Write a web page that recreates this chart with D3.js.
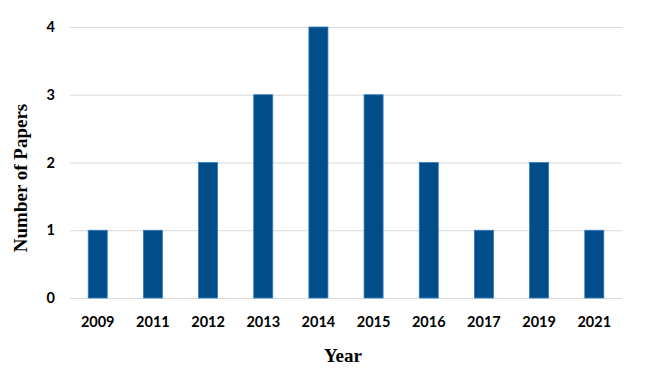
<!DOCTYPE html>
<html>
<head>
<meta charset="utf-8">
<script src="https://cdn.jsdelivr.net/npm/d3@7"></script>
<style>
	body { margin: 0; background: #fff; }
	.tick-label { font-family: Lato, "Open Sans", sans-serif; font-weight: bold; font-size: 14.5px; fill: #000; }
	.axis-title { font-family: "Liberation Serif", "DejaVu Serif", serif; font-weight: bold; font-size: 19px; fill: #000; }
</style>
</head>
<body>
<svg id="chart"></svg>
<script>
// Data.
var years = ["2009", "2011", "2012", "2013", "2014", "2015", "2016", "2017", "2019", "2021"];
var papers = [1, 1, 2, 3, 4, 3, 2, 1, 2, 1];
var yTicks = [0, 1, 2, 3, 4];

// Definitions.
var width = 648;
var height = 377;
var plotLeft = 70;
var plotRight = 622;
var plotTop = 27;
var plotBottom = 298;

var svg = d3.select("#chart")
	.attr("width", width)
	.attr("height", height);

var x = d3.scaleBand()
	.domain(years)
	.range([plotLeft, plotRight])
	.paddingInner(0.655)
	.paddingOuter(0.33);

var y = d3.scaleLinear()
	.domain([0, 4])
	.range([plotBottom, plotTop]);

// Gridlines.
svg.selectAll(".grid")
	.data(yTicks)
	.enter()
	.append("line")
	.attr("x1", plotLeft)
	.attr("x2", plotRight)
	.attr("y1", function(d) { return y(d) + 0.5; })
	.attr("y2", function(d) { return y(d) + 0.5; })
	.attr("stroke", "#d9d9d9")
	.attr("stroke-width", 1);

// Bars.
svg.selectAll(".bar")
	.data(years)
	.enter()
	.append("rect")
	.attr("x", function(d) { return x(d); })
	.attr("y", function(d, i) { return y(papers[i]); })
	.attr("width", x.bandwidth())
	.attr("height", function(d, i) { return y(0) - y(papers[i]); })
	.attr("fill", "#004d89")
	.attr("stroke", "#2f7fc4")
	.attr("stroke-width", 0.8);

// Y tick labels.
svg.selectAll(".ylab")
	.data(yTicks)
	.enter()
	.append("text")
	.classed("tick-label", true)
	.attr("x", 55)
	.attr("y", function(d) { return y(d) + 5; })
	.attr("text-anchor", "end")
	.text(function(d) { return d; });

// X tick labels.
svg.selectAll(".xlab")
	.data(years)
	.enter()
	.append("text")
	.classed("tick-label", true)
	.attr("x", function(d) { return x(d) + x.bandwidth() / 2; })
	.attr("y", 327)
	.attr("text-anchor", "middle")
	.text(function(d) { return d; });

// Axis titles.
svg.append("text")
	.classed("axis-title", true)
	.attr("transform", "translate(27,178) rotate(-90)")
	.attr("text-anchor", "middle")
	.text("Number of Papers");

svg.append("text")
	.classed("axis-title", true)
	.attr("x", 343)
	.attr("y", 362)
	.attr("text-anchor", "middle")
	.text("Year");
</script>
</body>
</html>
